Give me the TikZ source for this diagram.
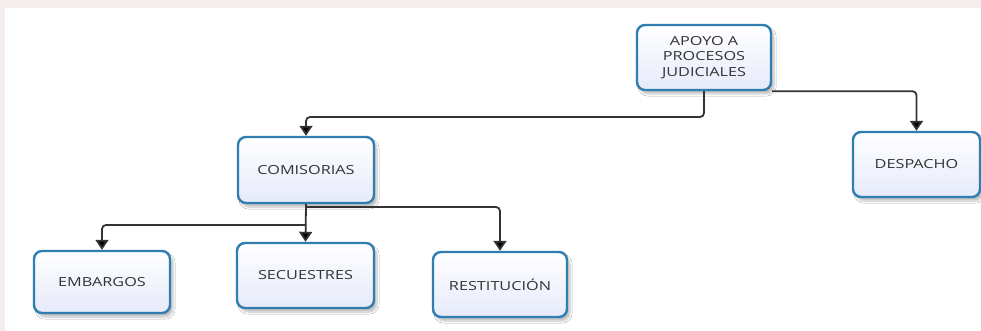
\documentclass[tikz,border=0pt]{standalone}
\usepackage{fontspec}
\setmainfont[FakeStretch=1.3]{Open Sans}
\usetikzlibrary{arrows.meta,shadows.blur}
\definecolor{bgpink}{HTML}{F5EEEF}
\definecolor{boxborder}{HTML}{2F7DB1}
\definecolor{boxbottom}{HTML}{E6EAFA}
\definecolor{txt}{HTML}{333333}
\definecolor{conncol}{HTML}{333333}
\tikzset{
  orgbox/.style={draw=boxborder, line width=2.4pt, rounded corners=8pt,
    top color=white, bottom color=boxbottom,
    blur shadow={shadow xshift=3pt, shadow yshift=-4pt, shadow opacity=25, shadow blur steps=6},
    align=center, text=txt, font=\fontsize{12.5}{15.5}\selectfont,
    inner sep=0pt},
  conn/.style={draw=conncol, line width=1.8pt, rounded corners=4pt,
    -{Triangle[length=10pt,width=13pt,fill=black]}}
}
\begin{document}
\begin{tikzpicture}[x=1pt,y=-1pt]
\useasboundingbox (0,0) rectangle (981,331);
\fill[bgpink] (0,0) rectangle (981,331);
\fill[white] (5,8) rectangle (981,331);

\node[orgbox, minimum width=134pt, minimum height=65pt] (apoyo) at (704,57.5) {APOYO A\\PROCESOS\\JUDICIALES};
\node[orgbox, minimum width=127pt, minimum height=65pt] (desp) at (916.5,164.5) {DESPACHO};
\node[orgbox, minimum width=136pt, minimum height=66pt] (comis) at (306,170) {COMISORIAS};
\node[orgbox, minimum width=136pt, minimum height=62pt] (emb) at (102,282) {EMBARGOS};
\node[orgbox, minimum width=137pt, minimum height=65pt] (secu) at (305.5,275.5) {SECUESTRES};
\node[orgbox, minimum width=134pt, minimum height=65pt] (rest) at (500,284.5) {RESTITUCIÓN};

\coordinate (j1) at (704,117);
\coordinate (j2) at (306,207);
\coordinate (j3) at (306,225);

\draw[conn] (apoyo.south) -- (j1) -| (comis.north);
\draw[conn] (apoyo.south east) -| (desp.north);
\draw[conn] (comis.south) -- (secu.north);
\draw[conn] (j2) -| (rest.north);
\draw[conn] (j3) -| (emb.north);
\end{tikzpicture}
\end{document}
